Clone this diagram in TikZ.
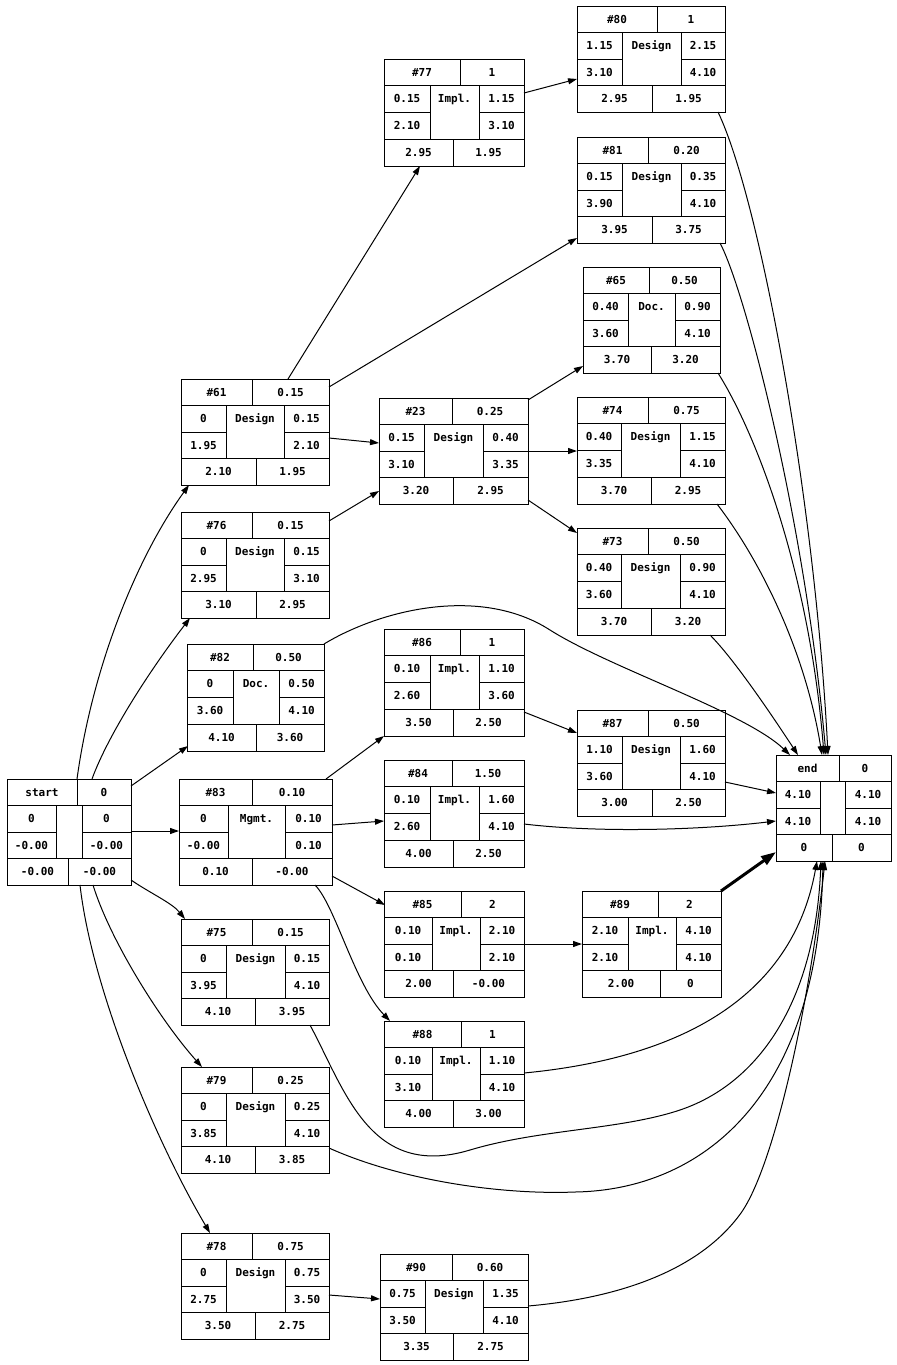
\documentclass[tikz,border=0pt]{standalone}
\usepackage{fontspec}
\setmainfont{DejaVu Sans Mono}
\usetikzlibrary{arrows.meta,calc,fit}
\newcommand\rec[9]{%
  \def\rn{#1}%
  \pgfmathsetmacro\rxa{#2}\pgfmathsetmacro\rya{#3}\pgfmathsetmacro\rxb{#4}\pgfmathsetmacro\ryb{#5}%
  \pgfmathsetmacro\rh{(#5-#3)/4}%
  \pgfmathsetmacro\ryA{#3+\rh}\pgfmathsetmacro\ryB{#3+2*\rh}\pgfmathsetmacro\ryC{#3+3*\rh}%
  \def\rtd{#6}\def\rml{#7}\def\rmr{#8}\def\rbd{#9}%
  \node[recbox, fit={(#2,#3)(#4,#5)}] (#1) {};
  \draw (#2,\ryA) -- (#4,\ryA) (#2,\ryC) -- (#4,\ryC)
        (#2,\ryB) -- (#7,\ryB) (#8,\ryB) -- (#4,\ryB)
        (#6,#3) -- (#6,\ryA) (#7,\ryA) -- (#7,\ryC) (#8,\ryA) -- (#8,\ryC)
        (#9,\ryC) -- (#9,#5);
}
\newcommand\recT[9]{%
  \pgfmathsetmacro\tyA{\rya+\rh/2}\pgfmathsetmacro\tyB{\rya+1.5*\rh}%
  \pgfmathsetmacro\tyC{\rya+2.5*\rh}\pgfmathsetmacro\tyD{\rya+3.5*\rh}%
  \node[txt] (\rn-id) at ({(\rxa+\rtd)/2},\tyA) {#1};
  \node[txt] (\rn-du) at ({(\rtd+\rxb)/2},\tyA) {#2};
  \node[txt] (\rn-a) at ({(\rxa+\rml)/2},\tyB) {#3};
  \node[txt] (\rn-b) at ({(\rxa+\rml)/2},\tyC) {#4};
  \node[txt] (\rn-l) at ({(\rml+\rmr)/2},\tyB) {#5};
  \node[txt] (\rn-c) at ({(\rmr+\rxb)/2},\tyB) {#6};
  \node[txt] (\rn-d) at ({(\rmr+\rxb)/2},\tyC) {#7};
  \node[txt] (\rn-e) at ({(\rxa+\rbd)/2},\tyD) {#8};
  \node[txt] (\rn-f) at ({(\rbd+\rxb)/2},\tyD) {#9};
}
\begin{document}
\begin{tikzpicture}[x=0.5pt,y=-0.5pt,line width=0.5pt,
  recbox/.style={draw, inner sep=0pt, outer sep=0pt},
  txt/.style={font=\bfseries\fontsize{5.5}{6}\selectfont, inner sep=0pt, text height=3.8pt, text depth=0pt},
  edge/.style={-{Triangle[length=4.5pt,width=3pt]}},
  thickedge/.style={line width=1.5pt,-{Triangle[length=7.5pt,width=5pt]}}]
\useasboundingbox (0,0) rectangle (896,1365);

\rec{n80}{577}{6}{725}{112}{657}{622}{681}{652}
\recT{\#80}{1}{1.15}{3.10}{Design}{2.15}{4.10}{2.95}{1.95}
\rec{n77}{384}{59}{524}{166}{460}{430}{479}{453}
\recT{\#77}{1}{0.15}{2.10}{Impl.}{1.15}{3.10}{2.95}{1.95}
\rec{n81}{577}{137}{725}{243}{648}{622}{681}{652}
\recT{\#81}{0.20}{0.15}{3.90}{Design}{0.35}{4.10}{3.95}{3.75}
\rec{n65}{583}{267}{720}{373}{649}{628}{675}{651}
\recT{\#65}{0.50}{0.40}{3.60}{Doc.}{0.90}{4.10}{3.70}{3.20}
\rec{n61}{181}{379}{329}{485}{252}{226}{284}{256}
\recT{\#61}{0.15}{0}{1.95}{Design}{0.15}{2.10}{2.10}{1.95}
\rec{n23}{379}{398}{528}{504}{452}{424}{483}{453}
\recT{\#23}{0.25}{0.15}{3.10}{Design}{0.40}{3.35}{3.20}{2.95}
\rec{n74}{577}{397}{725}{504}{648}{621}{680}{651}
\recT{\#74}{0.75}{0.40}{3.35}{Design}{1.15}{4.10}{3.70}{2.95}
\rec{n76}{181}{512}{329}{618}{252}{226}{284}{256}
\recT{\#76}{0.15}{0}{2.95}{Design}{0.15}{3.10}{3.10}{2.95}
\rec{n73}{577}{528}{725}{635}{648}{621}{680}{651}
\recT{\#73}{0.50}{0.40}{3.60}{Design}{0.90}{4.10}{3.70}{3.20}
\rec{n82}{187}{644}{324}{751}{253}{233}{279}{256}
\recT{\#82}{0.50}{0}{3.60}{Doc.}{0.50}{4.10}{4.10}{3.60}
\rec{n86}{384}{629}{524}{736}{460}{430}{479}{453}
\recT{\#86}{1}{0.10}{2.60}{Impl.}{1.10}{3.60}{3.50}{2.50}
\rec{n87}{577}{710}{725}{816}{648}{622}{680}{652}
\recT{\#87}{0.50}{1.10}{3.60}{Design}{1.60}{4.10}{3.00}{2.50}
\rec{n84}{384}{760}{524}{867}{452}{430}{479}{453}
\recT{\#84}{1.50}{0.10}{2.60}{Impl.}{1.60}{4.10}{4.00}{2.50}
\rec{nst}{7}{779}{131}{885}{77}{56}{82}{68}
\recT{start}{0}{0}{-0.00}{}{0}{-0.00}{-0.00}{-0.00}
\rec{n83}{179}{779}{332}{885}{252}{228}{285}{252}
\recT{\#83}{0.10}{0}{-0.00}{Mgmt.}{0.10}{0.10}{0.10}{-0.00}
\rec{nend}{776}{755}{891}{861}{839}{820}{845}{832}
\recT{end}{0}{4.10}{4.10}{}{4.10}{4.10}{0}{0}
\rec{n85}{384}{891}{524}{997}{461}{432}{480}{453}
\recT{\#85}{2}{0.10}{0.10}{Impl.}{2.10}{2.10}{2.00}{-0.00}
\rec{n89}{582}{891}{721}{997}{658}{628}{676}{660}
\recT{\#89}{2}{2.10}{2.10}{Impl.}{4.10}{4.10}{2.00}{0}
\rec{n75}{181}{919}{329}{1025}{252}{226}{285}{255}
\recT{\#75}{0.15}{0}{3.95}{Design}{0.15}{4.10}{4.10}{3.95}
\rec{n88}{384}{1021}{524}{1127}{461}{432}{480}{453}
\recT{\#88}{1}{0.10}{3.10}{Impl.}{1.10}{4.10}{4.00}{3.00}
\rec{n79}{181}{1067}{329}{1173}{252}{226}{285}{255}
\recT{\#79}{0.25}{0}{3.85}{Design}{0.25}{4.10}{4.10}{3.85}
\rec{n78}{181}{1233}{329}{1339}{252}{226}{285}{255}
\recT{\#78}{0.75}{0}{2.75}{Design}{0.75}{3.50}{3.50}{2.75}
\rec{n90}{380}{1254}{528}{1360}{452}{425}{483}{453}
\recT{\#90}{0.60}{0.75}{3.50}{Design}{1.35}{4.10}{3.35}{2.75}

% edges from start
\draw[edge] ($(nst.north west)+(70,0)$) .. controls (92,670) and (135,560) .. ($(n61.north west)+(8,106)$);
\draw[edge] ($(nst.north west)+(85,0)$) .. controls (108,735) and (150,670) .. ($(n76.north west)+(9,106)$);
\draw[edge] ($(nst.north west)+(124,7)$) -- ($(n82.north west)+(1,102)$);
\draw[edge] ($(nst.north west)+(124,52)$) -- ($(n83.north west)+(0,52)$);
\draw[edge] ($(nst.north west)+(124,101)$) .. controls (150,893) and (172,903) .. ($(n75.north west)+(4,0)$);
\draw[edge] ($(nst.north west)+(86,106)$) .. controls (110,940) and (160,1020) .. ($(n79.north west)+(21,0)$);
\draw[edge] ($(nst.north west)+(73,106)$) .. controls (92,990) and (155,1140) .. ($(n78.north west)+(29,0)$);
% inner edges
\draw[edge] ($(n61.north west)+(107,0)$) -- ($(n77.north west)+(36,107)$);
\draw[edge] ($(n61.north west)+(148,8)$) -- ($(n81.north west)+(0,101)$);
\draw[edge] ($(n61.north west)+(148,59)$) -- ($(n23.north west)+(0,45)$);
\draw[edge] ($(n76.north west)+(148,9)$) -- ($(n23.north west)+(0,93)$);
\draw[edge] ($(n23.north west)+(149,2)$) -- ($(n65.north west)+(0,99)$);
\draw[edge] ($(n23.north west)+(149,53)$) -- ($(n74.north west)+(0,54)$);
\draw[edge] ($(n23.north west)+(149,102)$) -- ($(n73.north west)+(0,5)$);
\draw[edge] ($(n77.north west)+(140,34)$) -- ($(n80.north west)+(0,73)$);
\draw[edge] ($(n83.north west)+(147,0)$) -- ($(n86.north west)+(0,107)$);
\draw[edge] ($(n83.north west)+(153,46)$) -- ($(n84.north west)+(0,61)$);
\draw[edge] ($(n83.north west)+(153,97)$) -- ($(n85.north west)+(1,14)$);
\draw[edge] ($(n83.north west)+(136,106)$) .. controls (335,905) and (355,985) .. ($(n88.north west)+(6,0)$);
\draw[edge] ($(n86.north west)+(140,83)$) -- ($(n87.north west)+(0,23)$);
\draw[edge] ($(n85.north west)+(140,53)$) -- ($(n89.north west)+(0,53)$);
\draw[edge] ($(n78.north west)+(148,62)$) -- ($(n90.north west)+(0,45)$);
% edges into end
\draw[edge] ($(n80.north west)+(141,106)$) .. controls (760,200) and (815,500) .. ($(nend.north west)+(52,0)$);
\draw[edge] ($(n81.north west)+(143,106)$) .. controls (745,290) and (805,520) .. ($(nend.north west)+(50,0)$);
\draw[edge] ($(n65.north west)+(135,106)$) .. controls (760,440) and (810,580) .. ($(nend.north west)+(48,0)$);
\draw[edge] ($(n74.north west)+(140,107)$) .. controls (760,560) and (805,650) .. ($(nend.north west)+(46,0)$);
\draw[edge] ($(n73.north west)+(133,107)$) .. controls (735,660) and (775,720) .. ($(nend.north west)+(22,0)$);
\draw[edge] ($(n82.north west)+(137,0)$) .. controls (380,610) and (480,585) .. (550,630)
  .. controls (610,668) and (745,712) .. ($(nend.north west)+(14,0)$);
\draw[edge] ($(n87.north west)+(148,72)$) -- ($(nend.north west)+(0,38)$);
\draw[edge] ($(n84.north west)+(140,64)$) .. controls (600,833) and (700,830) .. ($(nend.north west)+(0,66)$);
\draw[thickedge] ($(n89.north west)+(139,0)$) -- ($(nend.north west)+(0,97)$);
\draw[edge] ($(n88.north west)+(140,52)$) .. controls (660,1060) and (790,1010) .. ($(nend.north west)+(41,106)$);
\draw[edge] ($(n75.north west)+(129,106)$) .. controls (345,1090) and (370,1180) .. (470,1150)
  .. controls (540,1129) and (620,1130) .. (680,1110)
  .. controls (760,1083) and (815,1000) .. ($(nend.north west)+(45,106)$);
\draw[edge] ($(n79.north west)+(148,81)$) .. controls (400,1180) and (500,1195) .. (575,1192)
  .. controls (700,1190) and (818,1100) .. ($(nend.north west)+(47,106)$);
\draw[edge] ($(n90.north west)+(148,52)$) .. controls (620,1298) and (700,1270) .. (741,1213)
  .. controls (775,1165) and (810,1000) .. ($(nend.north west)+(49,106)$);
\end{tikzpicture}
\end{document}
